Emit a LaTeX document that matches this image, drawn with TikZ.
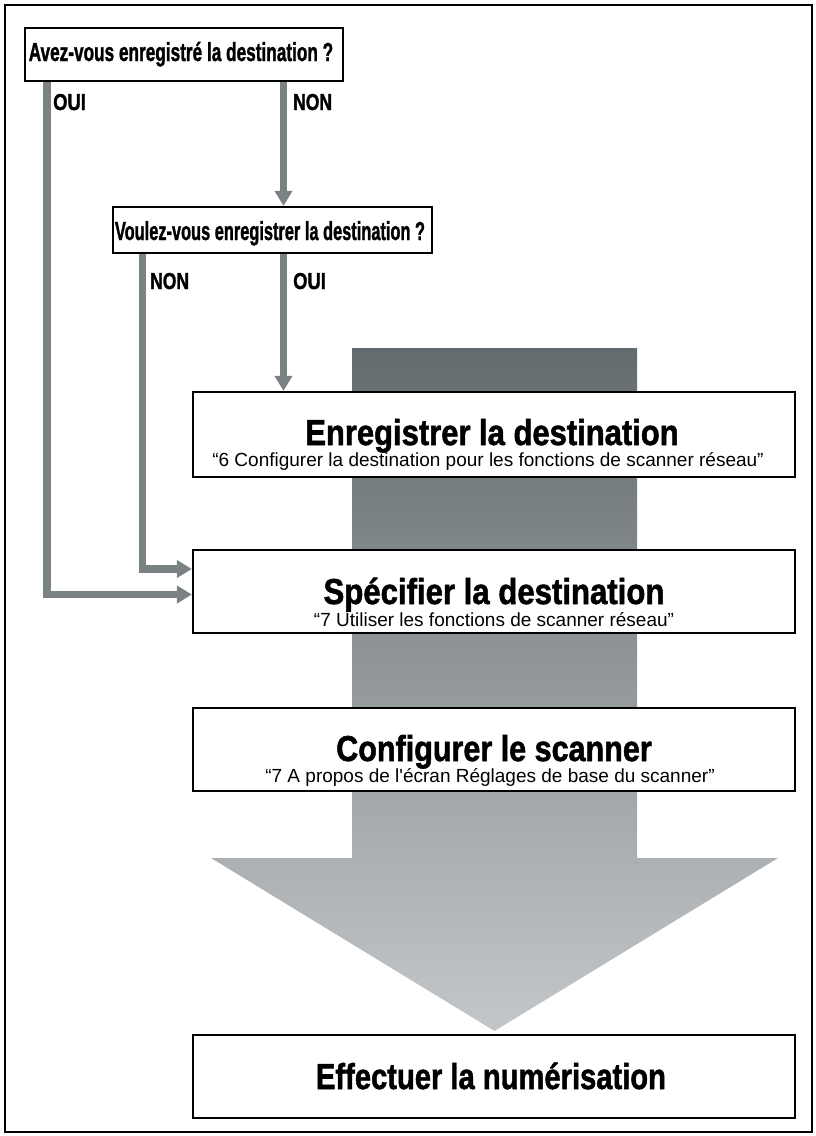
\documentclass[tikz,border=0pt]{standalone}
\usepackage{fontspec}
\setmainfont[Ligatures=TeXOff, BoldFeatures={FakeBold=1.6}]{Liberation Sans}
\usepackage{graphicx}
\usetikzlibrary{arrows.meta,backgrounds}
\definecolor{flowgray}{RGB}{122,130,131}
\definecolor{bartop}{RGB}{99,107,110}
\definecolor{barbot}{RGB}{196,199,201}
\newcommand{\hsc}[2]{\scalebox{#1}[1]{#2}}
\tikzset{
  box/.style={draw=black, line width=2.2pt, fill=white, rectangle, inner sep=0pt},
  flow/.style={draw=flowgray, line width=7.5pt, -{Triangle[length=15pt,width=17pt]}},
  qtext/.style={font=\fontsize{26}{26}\selectfont\bfseries, inner sep=0pt, anchor=base},
  lbl/.style={font=\fontsize{23}{23}\selectfont\bfseries, inner sep=0pt, anchor=base west},
  ttl/.style={font=\fontsize{36}{36}\selectfont\bfseries, inner sep=0pt, anchor=base},
  subt/.style={font=\fontsize{19}{19}\selectfont, inner sep=0pt, anchor=base},
}
\begin{document}
\begin{tikzpicture}[x=1pt,y=-1pt]
\useasboundingbox (0,0) rectangle (815,1136);

% boxes
\node[box, minimum width=318pt, minimum height=53pt] (b1) at (184,54.5) {};
\node[box, minimum width=319pt, minimum height=46pt] (b2) at (272.5,230) {};
\node[box, minimum width=602pt, minimum height=85pt] (b3) at (494,434.5) {};
\node[box, minimum width=602pt, minimum height=83pt] (b4) at (494,591.5) {};
\node[box, minimum width=602pt, minimum height=83pt] (b5) at (494,749.5) {};
\node[box, minimum width=602pt, minimum height=83pt] (b6) at (494,1076.5) {};

% texts
\node[qtext] (q1) at (181,61) {\hsc{0.662}{Avez-vous enregistré la destination ?}};
\node[qtext] (q2) at (270,240) {\hsc{0.63}{Voulez-vous enregistrer la destination ?}};
\node[lbl] (l1) at (53,110) {\hsc{0.8}{OUI}};
\node[lbl] (l2) at (293,110) {\hsc{0.76}{NON}};
\node[lbl] (l3) at (150,289) {\hsc{0.76}{NON}};
\node[lbl] (l4) at (293,289) {\hsc{0.8}{OUI}};

\node[ttl] (t3) at (492,445) {\hsc{0.86}{Enregistrer la destination}};
\node[subt] (s3) at (488,466) {“6 Configurer la destination pour les fonctions de scanner réseau”};
\node[ttl] (t4) at (494,604) {\hsc{0.865}{Spécifier la destination}};
\node[subt] (s4) at (494,626) {“7 Utiliser les fonctions de scanner réseau”};
\node[ttl] (t5) at (494,761) {\hsc{0.848}{Configurer le scanner}};
\node[subt] (s5) at (490,782) {“7 A propos de l'écran Réglages de base du scanner”};
\node[ttl] (t6) at (491,1089) {\hsc{0.81}{Effectuer la numérisation}};

% helper coordinates
\coordinate (xa) at (47,0);
\coordinate (xb) at (283.5,0);
\coordinate (xc) at (142.5,0);
\coordinate (ya) at (0,594.5);
\coordinate (yb) at (0,569);

\begin{scope}[on background layer]
  \draw[line width=2.2pt] (5,5) rectangle (812,1132);
  \shade[top color=bartop, bottom color=barbot]
    (352,348) -- (637,348) -- (637,858) -- (778,858) -- (494.5,1031)
    -- (211,858) -- (352,858) -- cycle;
  \draw[flow] (b1.south -| xa) |- (b4.west |- ya);
  \draw[flow] (b1.south -| xb) -- (b2.north -| xb);
  \draw[flow] (b2.south -| xc) |- (b4.west |- yb);
  \draw[flow] (b2.south -| xb) -- (b3.north -| xb);
\end{scope}
\end{tikzpicture}
\end{document}
